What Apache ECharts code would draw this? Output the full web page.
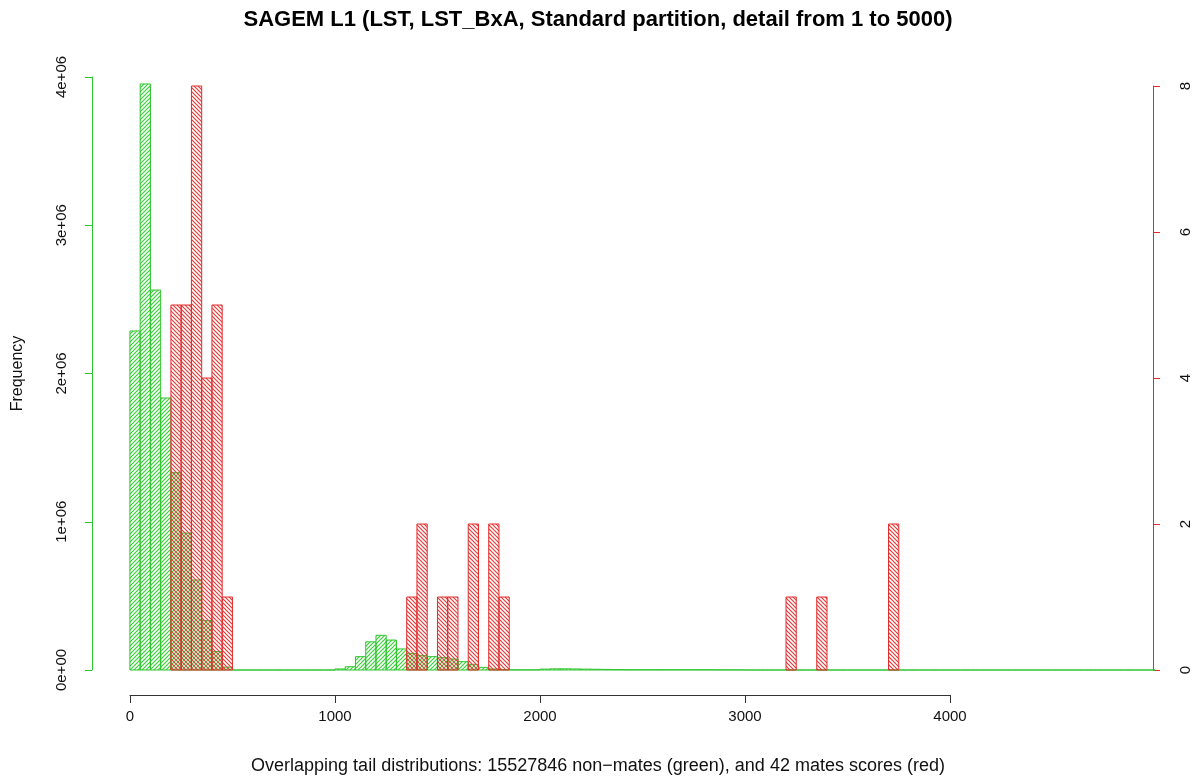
<!DOCTYPE html>
<html>
<head>
<meta charset="utf-8">
<script src="https://cdn.jsdelivr.net/npm/echarts@6/dist/echarts.min.js"></script>
<style>
html, body { margin: 0; padding: 0; background: #fff; }
#main { width: 1196px; height: 782px; }
</style>
</head>
<body>
<div id="main"></div>
<script>
// histogram bins are 50 wide, covering 0..5000 (100 bins)
const binWidth = 50;

// non-mates (green, left axis), count per bin
const nonMates = [
    2287000, 3953000, 2563000, 1835000, 1331000, 924000, 607000, 333000, 124000, 20000,
    0, 0, 0, 0, 0, 0, 0, 0, 0, 0,
    7000, 22000, 90000, 190000, 234000, 202000, 142000, 112000, 97000, 90000,
    83000, 74000, 56000, 38000, 18000, 7000, 3000, 1000, 1000, 1000,
    6000, 8000, 8000, 7000, 6000, 5000, 4000, 3000, 2000, 2000,
    2000, 2000, 2000, 2000, 2000, 2000, 2000, 1000, 1000, 1000,
    0, 0, 0, 0, 0, 0, 0, 0, 0, 0,
    0, 0, 0, 0, 0, 0, 0, 0, 0, 0,
    0, 0, 0, 0, 0, 0, 0, 0, 0, 0,
    0, 0, 0, 0, 0, 0, 0, 0, 0, 0
];

// mates (red, right axis), count per bin - 42 in total
const mates = [
    0, 0, 0, 0, 5, 5, 8, 4, 5, 1,
    0, 0, 0, 0, 0, 0, 0, 0, 0, 0,
    0, 0, 0, 0, 0, 0, 0, 1, 2, 0,
    1, 1, 0, 2, 0, 2, 1, 0, 0, 0,
    0, 0, 0, 0, 0, 0, 0, 0, 0, 0,
    0, 0, 0, 0, 0, 0, 0, 0, 0, 0,
    0, 0, 0, 0, 1, 0, 0, 1, 0, 0,
    0, 0, 0, 0, 2, 0, 0, 0, 0, 0,
    0, 0, 0, 0, 0, 0, 0, 0, 0, 0,
    0, 0, 0, 0, 0, 0, 0, 0, 0, 0
];

const xTicks = [0, 1000, 2000, 3000, 4000];
const freqTicks = [0, 1e6, 2e6, 3e6, 4e6];
const mateTicks = [0, 2, 4, 6, 8];

const green = '#2fc42f';
const red = '#e42a2a';
const font = 'Liberation Sans, Arial, sans-serif';

function hatch(color, dir) {
    const s = 4;
    const c = document.createElement('canvas');
    c.width = s;
    c.height = s;
    const g = c.getContext('2d');
    g.strokeStyle = color;
    g.lineWidth = 1.2;
    g.beginPath();
    if (dir > 0) {
        g.moveTo(-1, s + 1); g.lineTo(s + 1, -1);
        g.moveTo(-1, 1); g.lineTo(1, -1);
        g.moveTo(s - 1, s + 1); g.lineTo(s + 1, s - 1);
    } else {
        g.moveTo(-1, -1); g.lineTo(s + 1, s + 1);
        g.moveTo(s - 1, -1); g.lineTo(s + 1, 1);
        g.moveTo(-1, s - 1); g.lineTo(1, s + 1);
    }
    g.stroke();
    return { image: c, repeat: 'repeat' };
}

function toBins(counts) {
    return counts.map(function (c, i) { return [i * binWidth, c]; });
}

function histItem(color, pattern, skipZero) {
    return function (params, api) {
        let start = api.value(0);
        let count = api.value(1);
        if (skipZero && count === 0) return;
        let p0 = api.coord([start, 0]);
        let p1 = api.coord([start + binWidth, count]);
        return {
            type: 'rect',
            shape: { x: p0[0], y: p1[1], width: p1[0] - p0[0], height: p0[1] - p1[1] },
            style: { fill: pattern, stroke: color, lineWidth: 1 }
        };
    };
}

function sci(v) {
    if (v === 0) return '0e+00';
    let e = Math.floor(Math.log10(v) + 1e-9);
    let m = Math.round(v / Math.pow(10, e));
    return m + 'e+' + String(e).padStart(2, '0');
}

let myChart = echarts.init(document.getElementById('main'));

let option = {
    animation: false,
    backgroundColor: '#fff',
    textStyle: { fontFamily: font },
    title: [
        {
            text: 'SAGEM L1 (LST, LST_BxA, Standard partition, detail from 1 to 5000)',
            left: 'center',
            top: 4,
            textStyle: { fontSize: 22, fontWeight: 'bold', color: '#000', fontFamily: font }
        },
        {
            text: 'Overlapping tail distributions: 15527846 non\u2212mates (green), and 42 mates scores (red)',
            left: 'center',
            top: 752,
            textStyle: { fontSize: 18, fontWeight: 'normal', color: '#111', fontFamily: font }
        }
    ],
    grid: [
        { left: 92, right: 43, top: 77, bottom: 112, outerBoundsMode: 'none' },
        { left: 92, right: 43, top: 86, bottom: 112, outerBoundsMode: 'none' },
        { left: 130, width: 820, bottom: 87, height: 1, outerBoundsMode: 'none' }
    ],
    xAxis: [
        { gridIndex: 0, type: 'value', min: -185, max: 4990, show: false },
        { gridIndex: 1, type: 'value', min: -185, max: 4990, show: false },
        {
            gridIndex: 2,
            type: 'value',
            min: xTicks[0],
            max: xTicks[xTicks.length - 1],
            interval: 1000,
            axisLine: { onZero: false, lineStyle: { color: '#333', width: 1 } },
            axisTick: { length: 8, lineStyle: { color: '#333' } },
            axisLabel: { fontSize: 15, color: '#111', margin: 14, formatter: function (v) { return String(v); } },
            splitLine: { show: false }
        }
    ],
    yAxis: [
        {
            gridIndex: 0,
            type: 'value',
            position: 'left',
            min: freqTicks[0],
            max: freqTicks[freqTicks.length - 1],
            interval: 1e6,
            name: 'Frequency',
            nameLocation: 'middle',
            nameGap: 66,
            nameRotate: 90,
            nameTextStyle: { fontSize: 16, color: '#111' },
            axisLine: { show: true, onZero: false, lineStyle: { color: green } },
            axisTick: { show: true, length: 7, lineStyle: { color: green } },
            axisLabel: { rotate: 90, fontSize: 15, color: '#111', margin: 23, formatter: sci },
            splitLine: { show: false }
        },
        {
            gridIndex: 1,
            type: 'value',
            position: 'right',
            min: mateTicks[0],
            max: mateTicks[mateTicks.length - 1],
            interval: 2,
            axisLine: { show: true, onZero: false, lineStyle: { color: red } },
            axisTick: { show: true, length: 7, lineStyle: { color: red } },
            axisLabel: { rotate: 90, fontSize: 15, color: '#111', margin: 25 },
            splitLine: { show: false }
        },
        { gridIndex: 2, type: 'value', show: false }
    ],
    series: [
        {
            name: 'non-mates',
            type: 'custom',
            xAxisIndex: 0,
            yAxisIndex: 0,
            renderItem: histItem(green, hatch('#3ad03a', 1), false),
            data: toBins(nonMates)
        },
        {
            name: 'mates',
            type: 'custom',
            xAxisIndex: 1,
            yAxisIndex: 1,
            renderItem: histItem(red, hatch('#e63c3c', -1), true),
            data: toBins(mates)
        }
    ]
};

myChart.setOption(option);
</script>
</body>
</html>
